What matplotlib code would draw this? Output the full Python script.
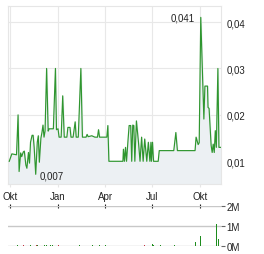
import pandas as pd
import matplotlib
matplotlib.use("Agg")
import matplotlib.pyplot as plt

plt.rcParams['font.family'] = ['Liberation Sans', 'DejaVu Sans']

start = pd.Timestamp("2023-10-01")

# price path, days after 1 Oct 2023
price_days = [-2, 3, 12, 15, 17, 20, 22, 25, 27, 30, 32, 35, 37, 39, 42, 44, 46, 49, 52, 54,
              56, 59, 61, 63, 65, 67, 70, 73, 75, 83, 87, 89, 92, 94, 98, 101, 104, 109, 111, 115,
              117, 121, 125, 127, 131, 136, 139, 146, 148, 150, 157, 163, 168, 170, 172, 186, 188, 190, 217, 218,
              220, 222, 224, 227, 229, 232, 234, 236, 238, 240, 243, 247, 250, 253, 256, 259, 263, 266, 269, 271,
              272, 274, 276, 285, 287, 315, 319, 322, 356, 358, 360, 362, 364, 367, 373, 375, 380, 381, 383, 387,
              389, 391, 393, 395, 397, 400, 402, 405]
price_vals = [0.0100, 0.0116, 0.0114, 0.0200, 0.0078, 0.0118, 0.0110, 0.0120, 0.0122, 0.0092,
              0.0085, 0.0119, 0.0096, 0.0141, 0.0156, 0.0156, 0.0130, 0.0072, 0.0141, 0.0155,
              0.0098, 0.0150, 0.0162, 0.0178, 0.0152, 0.0165, 0.0300, 0.0165, 0.0170, 0.0170,
              0.0300, 0.0168, 0.0170, 0.0152, 0.0152, 0.0241, 0.0152, 0.0152, 0.0173, 0.0173,
              0.0152, 0.0152, 0.0185, 0.0152, 0.0152, 0.0300, 0.0152, 0.0152, 0.0158, 0.0153,
              0.0155, 0.0152, 0.0152, 0.0168, 0.0152, 0.0152, 0.0177, 0.0100, 0.0100, 0.0126,
              0.0100, 0.0130, 0.0100, 0.0148, 0.0177, 0.0177, 0.0100, 0.0178, 0.0177, 0.0100,
              0.0187, 0.0141, 0.0100, 0.0152, 0.0100, 0.0148, 0.0100, 0.0141, 0.0100, 0.0141,
              0.0100, 0.0141, 0.0100, 0.0100, 0.0123, 0.0123, 0.0162, 0.0123, 0.0123, 0.0152,
              0.0144, 0.0136, 0.0140, 0.0410, 0.0191, 0.0262, 0.0262, 0.0216, 0.0214, 0.0134,
              0.0119, 0.0137, 0.0119, 0.0166, 0.0130, 0.0300, 0.0130, 0.0130]

# volume in millions
vol_days = [14, 26, 32, 34, 39, 50, 53, 59, 61, 66, 70, 77, 81, 93, 133, 159, 165, 172, 184, 231,
            246, 259, 274, 276, 283, 290, 316, 357, 366, 397, 401]
vol_vals = [0.05, 0.06, 0.08, 0.06, 0.05, 0.05, 0.05, 0.07, 0.05, 0.05, 0.05, 0.05, 0.05, 0.05, 0.05, 0.06,
            0.06, 0.05, 0.05, 0.05, 0.05, 0.05, 0.08, 0.06, 0.05, 0.05, 0.05, 0.2, 0.51, 1.1, 0.36]
vol_up = [1, 0, 0, 0, 1, 0, 1, 0, 0, 1, 1, 1, 1, 0, 1, 1, 1, 1, 1, 1,
          0, 0, 1, 1, 1, 1, 1, 1, 1, 1, 1]

month_ticks = pd.to_datetime(["2023-10-01", "2024-01-01", "2024-04-01", "2024-07-01", "2024-10-01"])
month_labels = ["Okt", "Jan", "Apr", "Jul", "Okt"]
price_ticks = [0.01, 0.02, 0.03, 0.04]
price_labels = ["0,01", "0,02", "0,03", "0,04"]
vol_ticks = [0, 1, 2]
vol_labels = ["0M", "1M", "2M"]

dates = start + pd.to_timedelta(price_days, unit="D")
vdates = start + pd.to_timedelta(vol_days, unit="D")
xmin = start - pd.Timedelta(days=4.4)
xmax = start + pd.Timedelta(days=406)

W, H = 264, 255
fig = plt.figure(figsize=(W / 100, H / 100), dpi=100)
ax = fig.add_axes([8 / W, 1 - 185 / H, 213 / W, 178 / H])
ax2 = fig.add_axes([8 / W, 1 - 247 / H, 213 / W, 40 / H])

line_c = '#2f962f'
ax.fill_between(dates, price_vals, 0, color='#ecf0f3', zorder=1)
ax.plot(dates, price_vals, color=line_c, lw=0.85, zorder=3)
ax.set_xlim(xmin, xmax)
ax.set_ylim(0.00511, 0.04345)
ax.set_xticks(month_ticks)
ax.set_xticklabels(month_labels)
ax.set_yticks(price_ticks)
ax.set_yticklabels(price_labels)
ax.yaxis.tick_right()
ax.grid(True, color='#e8e8e8', lw=0.8, zorder=0)
ax.set_axisbelow(True)
for s in ax.spines.values():
    s.set_color('#e6e6e6')
    s.set_linewidth(0.8)
ax.tick_params(axis='x', length=2, color='#e6e6e6', labelsize=7, labelcolor='#222222', pad=3)
ax.tick_params(axis='y', length=0, labelsize=7, labelcolor='#222222', pad=4)

i_max = price_vals.index(max(price_vals))
i_min = price_vals.index(min(price_vals))
ax.annotate("0,041", (dates[i_max], price_vals[i_max]), xytext=(-4, 0), textcoords='offset points',
            ha='right', va='center', fontsize=7, color='#222222')
ax.annotate("0,007", (dates[i_min], price_vals[i_min]), xytext=(2.5, -1), textcoords='offset points',
            ha='left', va='center', fontsize=7, color='#222222')

# volume panel
colors = ['#1e8c1e' if u else '#c03040' for u in vol_up]
ax2.bar(vdates, vol_vals, width=1.2, color=colors, zorder=3)
ax2.set_xlim(xmin, xmax)
ax2.set_ylim(0, 2)
ax2.set_yticks(vol_ticks)
ax2.set_yticklabels(vol_labels)
ax2.yaxis.tick_right()
ax2.grid(True, axis='y', color='#c8c8c8', lw=1.0, zorder=0)
for s in ax2.spines.values():
    s.set_visible(False)
ax2.xaxis.tick_top()
ax2.set_xticks(month_ticks)
ax2.tick_params(axis='x', direction='inout', length=3.5, width=0.8, color='#222222', labeltop=False)
ax2.tick_params(axis='y', length=3, width=0.8, color='#666666', labelsize=7, labelcolor='#222222', pad=1)

fig.savefig("out.png", dpi=100)
